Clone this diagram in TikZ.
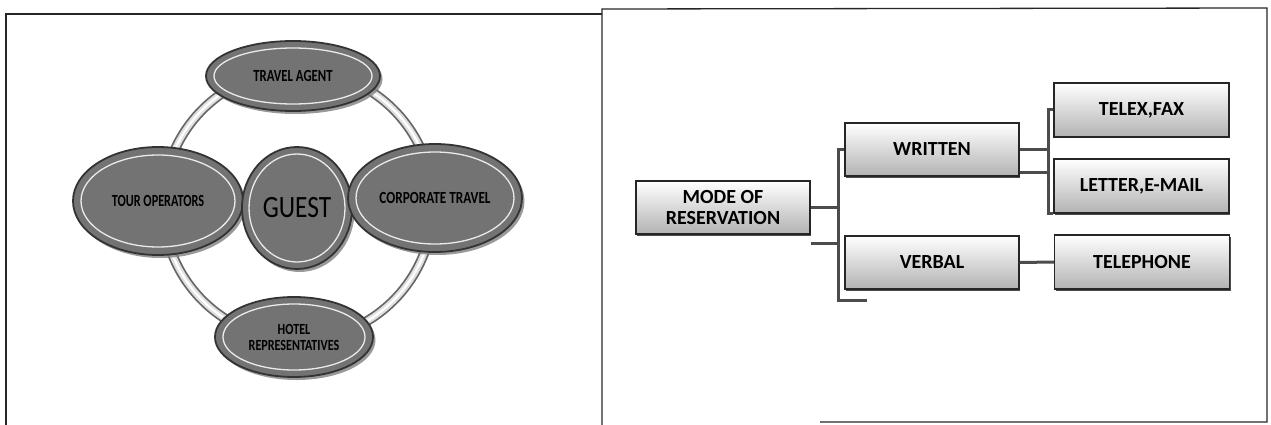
\documentclass[tikz,border=0pt]{standalone}
\usepackage{fontspec}
\setmainfont{Carlito}
\usetikzlibrary{shapes.geometric,shadows,calc}
\begin{document}
\begin{tikzpicture}[x=1pt,y=-1pt,
  frame/.style={line width=1.3pt, draw=black!85},
  ell/.style={ellipse, draw=black!80, line width=1.8pt, fill=black!55, inner sep=0pt,
    drop shadow={shadow xshift=2.5pt, shadow yshift=-3pt, fill=black!50, opacity=0.8},
    font=\fontsize{17}{14}\selectfont\bfseries, text=black, align=center},
  hl/.style={draw=white, line width=1.3pt, opacity=0.85},
  box/.style={rectangle, draw=black!85, line width=1.1pt, top color=white, bottom color=black!30,
    minimum width=174pt, minimum height=53pt, inner sep=0pt,
    font=\fontsize{20}{21}\selectfont\bfseries, align=center,
    drop shadow={shadow xshift=1.2pt, shadow yshift=-1.5pt, fill=black!70, opacity=1}},
  conn/.style={line width=3pt, draw=black!70},
]
\useasboundingbox (0,0) rectangle (1271,425);
% frames
\draw[frame] (6,425) -- (6,14) -- (602,14);
\draw[frame] (602,425) -- (602,9) -- (1267,8) -- (1267,422) -- (820,422);

% ring
\draw[black!60, line width=10pt] (298,205) circle[radius=135];
\draw[black!12, line width=6.5pt] (298,205) circle[radius=135];
\draw[white, line width=2.2pt] (298,205) circle[radius=135];

% ellipses
\node[ell, minimum width=174pt, minimum height=70pt] (ta) at (293,76) {\scalebox{0.75}[1]{TRAVEL AGENT}};
\draw[hl] (ta.center) ellipse [x radius=79, y radius=28];
\node[ell, minimum width=158pt, minimum height=80pt, font=\fontsize{15.5}{16}\selectfont\bfseries] (hr) at (294,337) {\scalebox{0.78}[1]{HOTEL}\\\scalebox{0.78}[1]{REPRESENTATIVES}};
\draw[hl] (hr.center) ellipse [x radius=71, y radius=33];
\node[ell, minimum width=170pt, minimum height=108pt] (to) at (158,201) {\scalebox{0.72}[1]{TOUR OPERATORS}};
\draw[hl] (to.center) ellipse [x radius=77, y radius=46];
\node[ell, minimum width=110pt, minimum height=122pt, font=\fontsize{31}{30}\selectfont\mdseries] (gu) at (297,208) {\scalebox{0.82}[1]{GUEST}};
\draw[hl] (gu.center) ellipse [x radius=48, y radius=54];
\node[ell, minimum width=174pt, minimum height=108pt] (ct) at (435,198) {\scalebox{0.78}[1]{CORPORATE TRAVEL}};
\draw[hl] (ct.center) ellipse [x radius=79, y radius=46];

% right panel boxes
\node[box] (mode) at (723,207.5) {MODE OF\\RESERVATION};
\node[box] (written) at (932,149.5) {WRITTEN};
\node[box] (verbal) at (932,262.5) {VERBAL};
\node[box, minimum width=175pt, minimum height=54pt] (telex) at (1141.5,110) {TELEX,FAX};
\node[box, minimum width=175pt, minimum height=54pt] (letter) at (1141.5,186) {LETTER,E-MAIL};
\node[box, minimum width=175pt, minimum height=54pt] (telephone) at (1142,262) {TELEPHONE};

% connectors
\coordinate (sp1) at (838,150);
\coordinate (stub) at (811,243);
\coordinate (end1) at (867,300);
\coordinate (sp2) at (1048,110);
\draw[conn] (written.west) -- (written.west -| sp1) -- (sp1 |- end1) -- (end1);
\draw[conn] (mode.east) -- (mode.east -| sp1);
\draw[conn] (stub) -- (stub -| sp1);
\draw[conn] (written.east) -- (written.east -| sp2);
\draw[conn] ($(written.east)+(0,22.5)$) -- ($(written.east -| sp2)+(0,22.5)$);
\draw[conn] (telex.west) -- (telex.west -| sp2) -- (sp2 |- letter.south west) -- (letter.south west);
\draw[conn] (verbal.east) -- (telephone.west);
\end{tikzpicture}
\end{document}
